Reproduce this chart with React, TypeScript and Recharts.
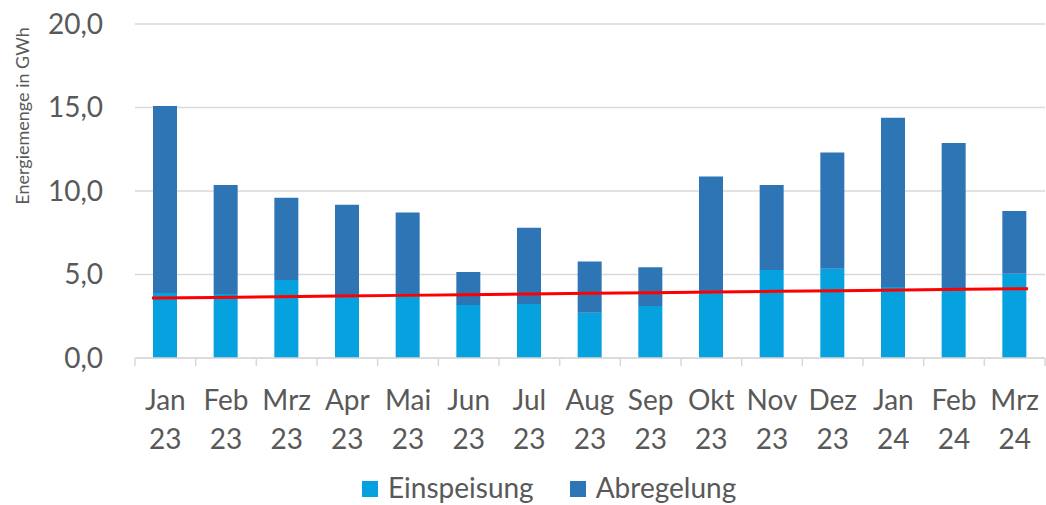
import { ComposedChart, Bar, Line, XAxis, YAxis, CartesianGrid, Legend } from "recharts";

const MONATE = ["Jan 23", "Feb 23", "Mrz 23", "Apr 23", "Mai 23", "Jun 23", "Jul 23", "Aug 23", "Sep 23", "Okt 23", "Nov 23", "Dez 23", "Jan 24", "Feb 24", "Mrz 24"];
const EINSPEISUNG = [3.89, 3.83, 4.67, 3.72, 3.8, 3.17, 3.23, 2.71, 3.11, 3.99, 5.27, 5.35, 4.25, 4.15, 5.05];
const ABREGELUNG = [11.2, 6.53, 4.93, 5.46, 4.92, 1.98, 4.57, 3.07, 2.32, 6.88, 5.09, 6.96, 10.14, 8.72, 3.75];
// red line at each month
const TREND = [3.59, 3.63, 3.67, 3.71, 3.75, 3.79, 3.83, 3.87, 3.91, 3.95, 3.99, 4.03, 4.07, 4.11, 4.15];
const Y_TICKS = [0, 5, 10, 15, 20];
const SERIEN = ["Einspeisung", "Abregelung"];

const TEXT = "#595959";
const GRID = "#D9D9D9";

const data = MONATE.map((m, i) => ({
    monat: m,
    idx: i + 1,
    Einspeisung: EINSPEISUNG[i],
    Abregelung: ABREGELUNG[i],
    trend: TREND[i],
}));

// tick marks sit between the months, like in Excel
const boundaryTicks = Array.from({ length: MONATE.length + 1 }, (_, i) => i + 0.5);

function MonthTick({ x, y, payload }: any) {
    const [mon, jahr] = String(payload.value).split(" ");
    return (
        <text x={x} y={y} textAnchor="middle" fill={TEXT} fontSize={28}>
            <tspan x={x} dy={51}>{mon}</tspan>
            <tspan x={x} dy={39}>{jahr}</tspan>
        </text>
    );
}

const NoLabel = () => <g />;

function LegendContent({ payload }: any) {
    const items = SERIEN.map((s) => (payload || []).find((p: any) => p.value === s)).filter(Boolean);
    return (
        <div style={{ display: "flex", justifyContent: "flex-start", paddingLeft: 362, height: 45, alignItems: "center", paddingTop: 8, boxSizing: "border-box" }}>
            {items.map((p: any) => (
                <div key={p.value} style={{ display: "flex", alignItems: "center", marginRight: 36 }}>
                    <span style={{ width: 16, height: 16, background: p.color, display: "inline-block", marginRight: 10, marginTop: 4 }} />
                    <span style={{ fontSize: 28, color: TEXT }}>{p.value}</span>
                </div>
            ))}
        </div>
    );
}

function YLabel({ viewBox }: any) {
    const x = viewBox.x + 22;
    const y = viewBox.y + 92;
    return (
        <text x={x} y={y} transform={`rotate(-90 ${x} ${y})`} textAnchor="middle" dominantBaseline="central" fill={TEXT} fontSize={18}>
            Energiemenge in GWh
        </text>
    );
}

export default function App() {
    return (
        <div style={{ position: "fixed", left: 0, top: 0, width: 1046, height: 505, background: "#fff", fontFamily: "Lato, 'Open Sans', sans-serif" }}>
            <ComposedChart width={1046} height={505} data={data} margin={{ top: 24, right: 1, bottom: 0, left: 0 }}>
                <CartesianGrid vertical={false} stroke={GRID} strokeWidth={1.5} />
                <XAxis
                    type="number"
                    dataKey="idx"
                    domain={[0.5, MONATE.length + 0.5]}
                    ticks={boundaryTicks}
                    tick={NoLabel}
                    height={1}
                    tickSize={8}
                    axisLine={{ stroke: GRID, strokeWidth: 1.5 }}
                    tickLine={{ stroke: GRID, strokeWidth: 1.5 }}
                    allowDataOverflow
                />
                <XAxis xAxisId="cat" dataKey="monat" interval={0} axisLine={false} tickLine={false} tickSize={0} tickMargin={0} height={101} tick={<MonthTick />} />
                <XAxis xAxisId="trend" type="number" dataKey="idx" domain={[1, MONATE.length]} padding={{ left: 17, right: 17 }} hide />
                <YAxis
                    domain={[0, 20]}
                    ticks={Y_TICKS}
                    width={135}
                    axisLine={false}
                    tickLine={false}
                    tickMargin={26}
                    tick={{ fill: TEXT, fontSize: 28 }}
                    tickFormatter={(v: number) => v.toFixed(1).replace(".", ",")}
                    label={<YLabel />}
                />
                <Legend content={<LegendContent />} verticalAlign="bottom" height={45} />
                <Bar xAxisId="cat" dataKey="Einspeisung" stackId="a" fill="#05A2DF" barSize={24} isAnimationActive={false} />
                <Bar xAxisId="cat" dataKey="Abregelung" stackId="a" fill="#2E75B6" barSize={24} isAnimationActive={false} />
                <Line xAxisId="trend" dataKey="trend" stroke="#FF0000" strokeWidth={3} dot={false} legendType="none" isAnimationActive={false} />
            </ComposedChart>
        </div>
    );
}
